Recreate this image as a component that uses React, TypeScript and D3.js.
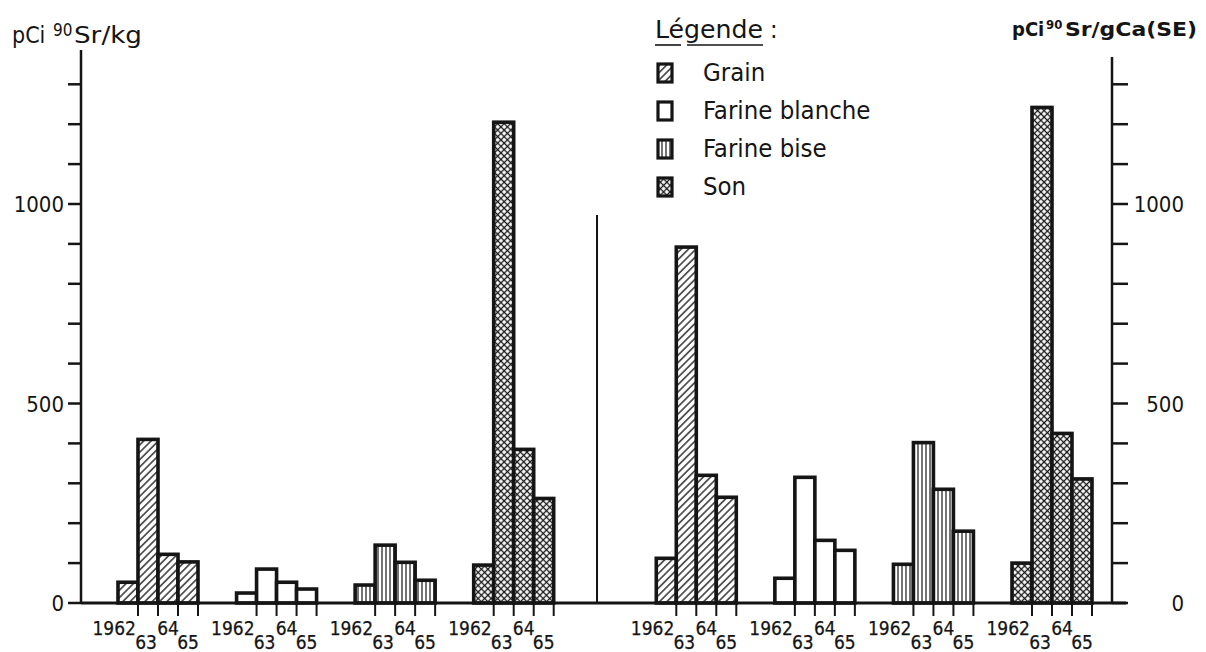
import React from 'react';
import * as d3 from 'd3';

// ---- data ----
const categories = ['Grain', 'Farine blanche', 'Farine bise', 'Son'];
const years = ['1962', '63', '64', '65'];

// pCi 90Sr / kg (left panel)
const grainKg = [52, 410, 122, 103];
const farineBlancheKg = [25, 85, 52, 35];
const farineBiseKg = [45, 145, 102, 57];
const sonKg = [95, 1205, 385, 262];

// pCi 90Sr / g Ca (SE) (right panel)
const grainCa = [112, 892, 320, 265];
const farineBlancheCa = [62, 315, 157, 132];
const farineBiseCa = [97, 402, 285, 180];
const sonCa = [100, 1242, 425, 311];

const tickValues = d3.range(0, 1301, 100);
const tickLabels = [0, 500, 1000];

const patternIds = ['hatch', 'blank', 'vert', 'cross'];

const FONT = "'DejaVu Sans Condensed', 'DejaVu Sans', sans-serif";
const INK = '#151515';

export default function App() {
  const W = 1206;
  const H = 652;
  const y = d3.scaleLinear().domain([0, 1000]).range([603, 204]);
  const slot = d3.scaleLinear().domain([0, 7.54]).range([118, 1012]);
  const band = d3.scaleBand<string>().domain(years).range([0, 80]);
  const bw = band.bandwidth();

  const kgSeries = [grainKg, farineBlancheKg, farineBiseKg, sonKg];
  const caSeries = [grainCa, farineBlancheCa, farineBiseCa, sonCa];
  const groups = [
    ...kgSeries.map((vals, i) => ({ cat: i, vals, x0: slot(i) })),
    ...caSeries.map((vals, i) => ({ cat: i, vals, x0: slot(i + 4.54) })),
  ];

  const axisL = 81;
  const axisR = 1112;
  const sepX = slot(4.04);

  return (
    <svg
      width={W}
      height={H}
      viewBox={`0 0 ${W} ${H}`}
      style={{ position: 'absolute', left: 0, top: 0, background: '#fff', display: 'block' }}
      fontFamily={FONT}
    >
      <defs>
        <pattern id="hatch" patternUnits="userSpaceOnUse" width={5.2} height={5.2} patternTransform="rotate(45)">
          <rect width={5.2} height={5.2} fill="#fff" />
          <line x1={2.6} y1={0} x2={2.6} y2={5.2} stroke={INK} strokeWidth={1.3} />
        </pattern>
        <pattern id="blank" patternUnits="userSpaceOnUse" width={4} height={4}>
          <rect width={4} height={4} fill="#fff" />
        </pattern>
        <pattern id="vert" patternUnits="userSpaceOnUse" width={4} height={4}>
          <rect width={4} height={4} fill="#fff" />
          <line x1={2} y1={0} x2={2} y2={4} stroke={INK} strokeWidth={1.2} />
        </pattern>
        <pattern id="cross" patternUnits="userSpaceOnUse" width={4.6} height={4.6} patternTransform="rotate(45)">
          <rect width={4.6} height={4.6} fill="#fff" />
          <line x1={2.3} y1={0} x2={2.3} y2={4.6} stroke={INK} strokeWidth={1.3} />
          <line x1={0} y1={2.3} x2={4.6} y2={2.3} stroke={INK} strokeWidth={1.3} />
        </pattern>
      </defs>

      {/* left title */}
      <text x={12} y={43} fontSize={23} fill={INK}>pCi</text>
      <text x={53} y={36} fontSize={17} fill={INK}>90</text>
      <text x={74} y={43} fontSize={23} fill={INK} textLength={68} lengthAdjust="spacingAndGlyphs">Sr/kg</text>

      {/* right title */}
      <text x={1012} y={36} fontSize={20} fontWeight="bold" fill={INK}>pCi</text>
      <text x={1046} y={29} fontSize={13} fontWeight="bold" fill={INK}>90</text>
      <text x={1065} y={36} fontSize={20} fontWeight="bold" fill={INK} textLength={132} lengthAdjust="spacingAndGlyphs">Sr/gCa(SE)</text>

      {/* legend */}
      <text x={655} y={38} fontSize={25} fill={INK} textLength={108} lengthAdjust="spacingAndGlyphs">Légende</text>
      <text x={770} y={38} fontSize={25} fill={INK}>:</text>
      <line x1={655} x2={681} y1={45} y2={45} stroke={INK} strokeWidth={1.6} />
      <line x1={687} x2={763} y1={45} y2={45} stroke={INK} strokeWidth={1.6} />
      {categories.map((c, i) => (
        <g key={c}>
          <rect x={658} y={64 + i * 38} width={14} height={18} fill={`url(#${patternIds[i]})`} stroke={INK} strokeWidth={3.2} />
          <text x={703} y={81 + i * 38} fontSize={25.5} fill={INK}>{c}</text>
        </g>
      ))}

      {/* left axis */}
      <line x1={axisL} x2={axisL} y1={50} y2={y(0)} stroke={INK} strokeWidth={2.5} />
      {tickValues.map((v) => (
        <line key={'lt' + v} x1={axisL - 13} x2={axisL} y1={y(v)} y2={y(v)} stroke={INK} strokeWidth={2.5} />
      ))}
      {tickLabels.map((v) => (
        <text key={'ll' + v} x={64} y={y(v) + 8} fontSize={22} textAnchor="end" fill={INK}>{v}</text>
      ))}

      {/* right axis */}
      <line x1={axisR} x2={axisR} y1={57} y2={y(0)} stroke={INK} strokeWidth={2.5} />
      {tickValues.map((v) => (
        <line key={'rt' + v} x1={axisR} x2={axisR + 16} y1={y(v)} y2={y(v)} stroke={INK} strokeWidth={2.5} />
      ))}
      {tickLabels.map((v) => (
        <text key={'rl' + v} x={1184} y={y(v) + 8} fontSize={22} textAnchor="end" fill={INK}>{v}</text>
      ))}

      {/* separator */}
      <line x1={sepX} x2={sepX} y1={215} y2={y(0)} stroke={INK} strokeWidth={2} />

      {/* bars */}
      {groups.map((g, gi) => (
        <g key={'g' + gi}>
          {g.vals.map((v, k) => (
            <rect
              key={k}
              x={g.x0 + (band(years[k]) as number)}
              y={y(v)}
              width={bw}
              height={y(0) - y(v)}
              fill={`url(#${patternIds[g.cat]})`}
              stroke={INK}
              strokeWidth={3.6}
            />
          ))}
        </g>
      ))}

      {/* baseline */}
      <line x1={axisL} x2={axisR + 14} y1={y(0)} y2={y(0)} stroke={INK} strokeWidth={3} />

      {/* x ticks and labels */}
      {groups.map((g, gi) => (
        <g key={'x' + gi}>
          {years.map((yr) => {
            const x1 = g.x0 + (band(yr) as number) + bw;
            return <line key={yr} x1={x1} x2={x1} y1={y(0)} y2={y(0) + 13} stroke={INK} strokeWidth={2} />;
          })}
          {years.map((yr, k) => {
            const left = g.x0 + (band(yr) as number);
            const cx = left + bw / 2;
            const upper = k % 2 === 0;
            const tx = k === 0 ? left + bw - 2 : k === 1 ? cx - 2 : cx;
            return (
              <text
                key={'t' + yr}
                x={tx}
                y={upper ? 635 : 649}
                fontSize={19}
                textAnchor={k === 0 ? 'end' : 'middle'}
                fill={INK}
                stroke={INK}
                strokeWidth={0.25}
              >
                {yr}
              </text>
            );
          })}
        </g>
      ))}
    </svg>
  );
}
